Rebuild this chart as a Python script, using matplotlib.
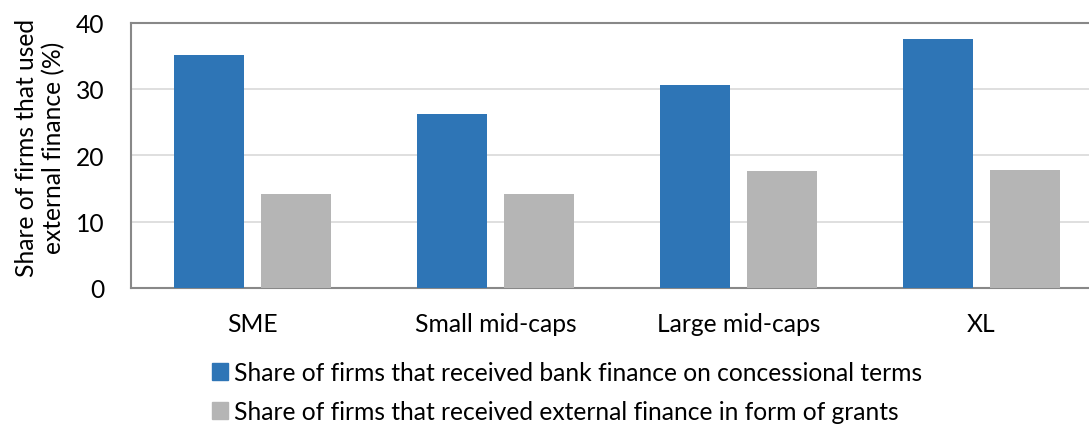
import numpy as np
import matplotlib.pyplot as plt
from matplotlib.patches import Patch

categories = ["SME", "Small mid-caps", "Large mid-caps", "XL"]
bank_concessional = [35.1, 26.2, 30.6, 37.5]
grants = [14.1, 14.1, 17.6, 17.8]
series_names = [
    "Share of firms that received bank finance on concessional terms",
    "Share of firms that received external finance in form of grants",
]

plt.rcParams['font.family'] = ['Lato', 'DejaVu Sans']
fs = 17.7

blue = "#2E75B6"
grey = "#B5B5B5"

W, H = 1089, 427
fig = plt.figure(figsize=(W / 100, H / 100), dpi=100)
# plot area runs slightly past the right edge of the figure
ax = fig.add_axes([131 / W, 1 - 289 / H, 972 / W, 265.5 / H])

x = np.arange(len(categories))
w = 0.288
ax.bar(x - 0.179, bank_concessional, w, color=blue, zorder=3)
ax.bar(x + 0.179, grants, w, color=grey, zorder=3)

ax.set_xlim(-0.5, 3.5)
ax.set_ylim(0, 40)
ax.set_yticks([0, 10, 20, 30, 40])
ax.set_xticks(x)
ax.set_xticklabels(categories)
ax.tick_params(axis='both', length=0, labelsize=fs, colors='black')
ax.tick_params(axis='x', pad=17)
ax.tick_params(axis='y', pad=19)

ax.grid(axis='y', color='#D9D9D9', linewidth=1.2, zorder=0)
for s in ax.spines.values():
    s.set_color('#888888')
    s.set_linewidth(1.5)

fig.text(40 / W, 1 - 148 / H, "Share of firms that used\nexternal finance (%)",
         rotation=90, ha='center', va='center', fontsize=fs, linespacing=1.2,
         multialignment='center')

handles = [Patch(color=blue), Patch(color=grey)]
fig.legend(handles, series_names, loc='upper left', bbox_to_anchor=(212 / W, 1 - 362 / H),
           frameon=False, fontsize=fs, handlelength=0.65, handleheight=0.65,
           handletextpad=0.25, labelspacing=0.66, borderaxespad=0, borderpad=0)

fig.savefig("out.png", dpi=100)
